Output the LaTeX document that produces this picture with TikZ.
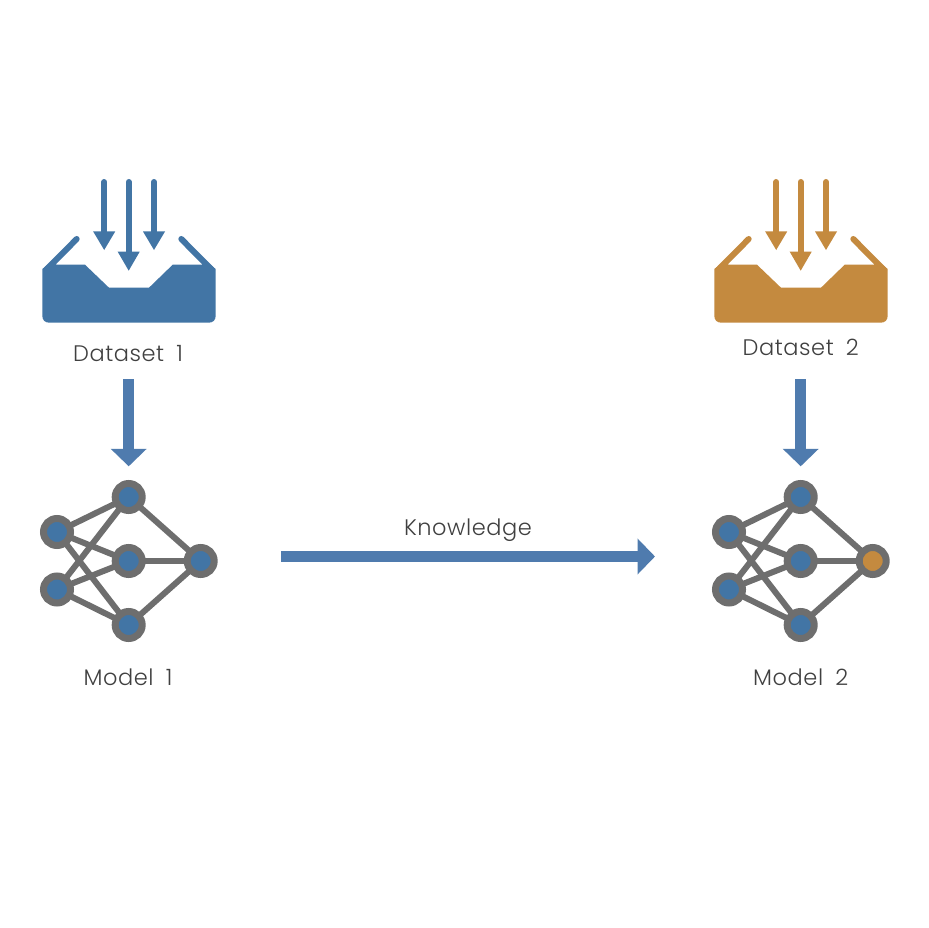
\documentclass[tikz,border=0pt]{standalone}
\usepackage{fontspec}
\setmainfont[LetterSpace=2.5,WordSpace=1.8]{Poppins Light}
\usetikzlibrary{arrows.meta}
\definecolor{trayblue}{HTML}{4275A5}
\definecolor{arrowblue}{HTML}{4F7BAE}
\definecolor{ochre}{HTML}{C48A3F}
\definecolor{netgray}{HTML}{6E6E6E}
\definecolor{labelgray}{HTML}{404040}
\tikzset{
  neuron/.style={circle,draw=netgray,line width=7pt,fill=#1,minimum size=27pt,inner sep=0pt,outer sep=0pt},
  synapse/.style={draw=netgray,line width=6pt},
  labeltext/.style={text=labelgray,font=\fontsize{22.5}{26}\selectfont,inner sep=0pt,anchor=base},
  bigarrow/.style={draw=arrowblue,line width=11.5pt,-{Triangle[length=17.5pt,width=35pt]}},
  rim/.style={line width=6pt,line cap=round}
}
\newcommand{\trayicon}[2]{%
  \begin{scope}[xshift=#1 pt]
    \fill[#2] (42.3,269) -- (42.3,315.7) .. controls (42.3,320) and (45,322.7) .. (49.3,322.7) -- (208.7,322.7) .. controls (213,322.7) and (215.7,320) .. (215.7,315.7) -- (215.7,269) -- (202,258) -- (202,264.7) -- (172.7,264.7) -- (149,287.7) -- (109,287.7) -- (85,264.7) -- (56,264.7) -- (56,258) -- cycle;
    \draw[#2,rim] (46,270) -- (76.7,239);
    \draw[#2,rim] (212,270) -- (181.3,239);
    \foreach \ax/\ay/\ah/\at in {104.2/182/231.5/250,128.7/182/251.7/270.7,154/182/231.5/250}{
      \draw[#2,line width=6pt,line cap=round] (\ax,\ay) -- (\ax,\ah);
      \fill[#2] (\ax-11,\ah) -- (\ax+11,\ah) -- (\ax,\at) -- cycle;
    }
  \end{scope}}
\newcommand{\network}[3]{%
  \begin{scope}[xshift=#2 pt]
    \node[neuron=trayblue] (#1a) at (57,532) {};
    \node[neuron=trayblue] (#1b) at (57,589.5) {};
    \node[neuron=trayblue] (#1t) at (128.7,497) {};
    \node[neuron=trayblue] (#1m) at (128.7,561) {};
    \node[neuron=trayblue] (#1d) at (128.7,625) {};
    \node[neuron=#3] (#1r) at (200.7,561) {};
    \foreach \u/\v in {a/t,a/m,a/d,b/t,b/m,b/d,t/r,m/r,d/r}{
      \draw[synapse] (#1\u) -- (#1\v);
    }
  \end{scope}}
\begin{document}
\begin{tikzpicture}[x=1pt,y=-1pt]
  \useasboundingbox (0,0) rectangle (929,928);
  \fill[white] (0,0) rectangle (929,928);
  \trayicon{0}{trayblue}
  \trayicon{672}{ochre}
  \network{p}{0}{trayblue}
  \network{q}{672}{ochre}
  \node[labeltext] (ds1) at (128,361) {Dataset 1};
  \node[labeltext] (ds2) at (800.7,355) {Dataset 2};
  \node[labeltext] (mod1) at (128,685) {Model 1};
  \node[labeltext] (mod2) at (800.7,685) {Model 2};
  \node[labeltext] (know) at (468,535) {Knowledge};
  \coordinate (kstart) at (281,556.5);
  \coordinate (kend) at (655,556.5);
  \draw[bigarrow,shorten >=17.2pt,shorten <=18pt] (ds1.south -| pt.north) -- (pt.north);
  \draw[bigarrow,shorten >=17.2pt,shorten <=24pt] (ds2.south) -- (qt.north);
  \draw[bigarrow] (kstart) -- (kend);
\end{tikzpicture}
\end{document}
